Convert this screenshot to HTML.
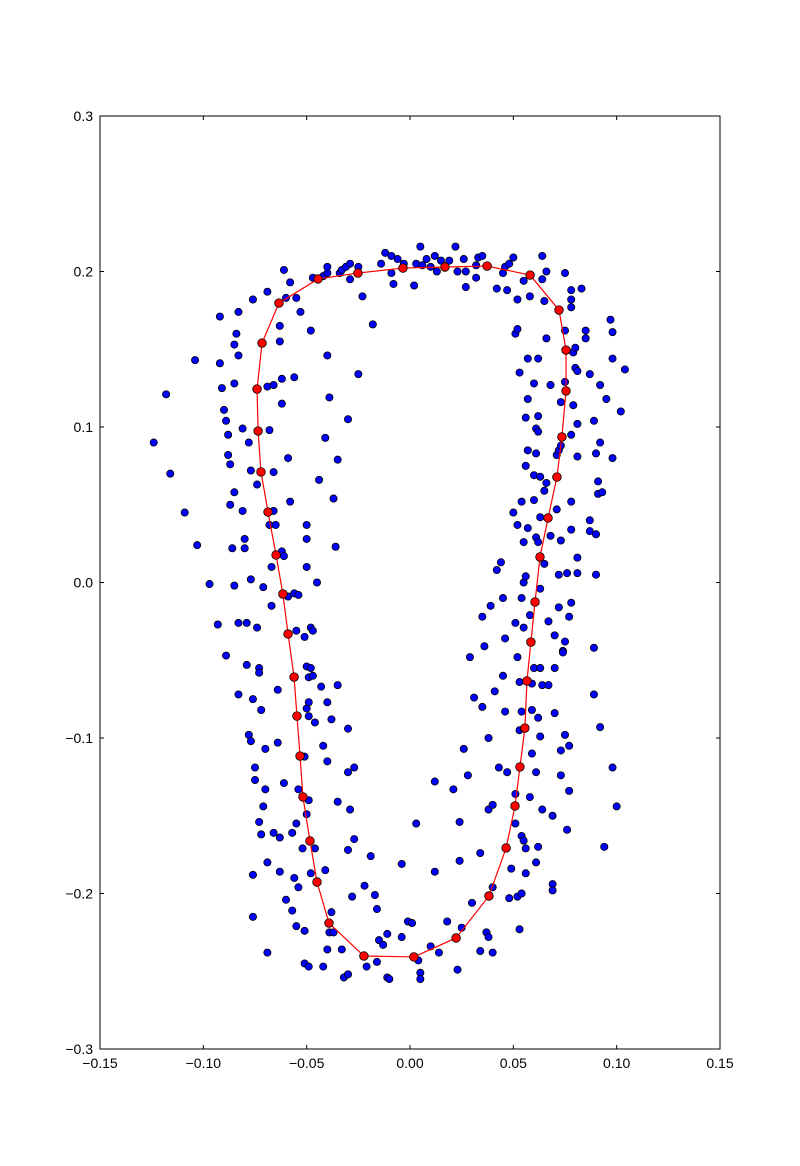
<!DOCTYPE html>
<html><head><meta charset="utf-8"><style>
body{margin:0;background:#fff;}
svg{display:block;font-family:"Liberation Sans",sans-serif;}
</style></head><body>
<svg id="chart" width="800" height="1166"></svg>
<script>
const xTicks=[-0.15,-0.10,-0.05,0.00,0.05,0.10,0.15];
const xTickLabels=["\u22120.15","\u22120.10","\u22120.05","0.00","0.05","0.10","0.15"];
const yTicks=[-0.3,-0.2,-0.1,0.0,0.1,0.2,0.3];
const yTickLabels=["\u22120.3","\u22120.2","\u22120.1","0.0","0.1","0.2","0.3"];
const curveX=[-0.0034,0.0169,0.0373,0.0581,0.0721,0.0755,0.0755,0.0735,0.0711,0.0668,0.0629,0.0605,0.0585,0.0566,0.0556,0.0532,0.0508,0.0465,0.0382,0.0223,0.0019,-0.0223,-0.0392,-0.0450,-0.0484,-0.0518,-0.0532,-0.0547,-0.0561,-0.0590,-0.0615,-0.0648,-0.0687,-0.0721,-0.0735,-0.0740,-0.0716,-0.0634,-0.0445,-0.0252];
const curveY=[0.2022,0.2029,0.2035,0.1977,0.1752,0.1495,0.1232,0.0936,0.0678,0.0415,0.0164,-0.0125,-0.0383,-0.0633,-0.0936,-0.1186,-0.1437,-0.1707,-0.2016,-0.2286,-0.2408,-0.2402,-0.2190,-0.1926,-0.1662,-0.1379,-0.1116,-0.0859,-0.0608,-0.0331,-0.0074,0.0177,0.0453,0.0711,0.0974,0.1244,0.1540,0.1797,0.1952,0.1990];
const pts=[[-0.124,0.090],[-0.118,0.121],[-0.116,0.070],[-0.109,0.045],[-0.103,0.024],[-0.104,0.143],[-0.097,-0.001],[-0.093,-0.027],[-0.092,0.171],[-0.092,0.141],[-0.091,0.125],[-0.090,0.111],[-0.089,0.104],[-0.088,0.082],[-0.088,0.095],[-0.087,0.076],[-0.087,0.050],[-0.086,0.022],[-0.085,0.058],[-0.085,0.128],[-0.085,0.153],[-0.084,0.160],[-0.083,0.146],[-0.083,0.174],[-0.089,-0.047],[-0.085,-0.002],[-0.083,-0.072],[-0.083,-0.026],[-0.081,0.099],[-0.081,0.046],[-0.080,0.028],[-0.080,0.022],[-0.079,-0.053],[-0.079,-0.026],[-0.078,0.090],[-0.078,-0.098],[-0.077,-0.102],[-0.077,0.002],[-0.077,0.072],[-0.076,0.182],[-0.076,-0.075],[-0.076,-0.188],[-0.076,-0.215],[-0.075,-0.119],[-0.075,-0.127],[-0.074,0.063],[-0.074,-0.029],[-0.073,-0.055],[-0.073,-0.058],[-0.073,-0.154],[-0.072,-0.082],[-0.072,-0.162],[-0.071,-0.003],[-0.071,-0.144],[-0.070,-0.133],[-0.070,-0.107],[-0.069,0.126],[-0.069,0.187],[-0.069,-0.180],[-0.069,-0.238],[-0.068,0.098],[-0.068,0.037],[-0.067,0.010],[-0.067,-0.015],[-0.066,-0.161],[-0.066,0.127],[-0.066,0.071],[-0.066,0.046],[-0.065,0.037],[-0.064,-0.103],[-0.064,-0.069],[-0.063,0.165],[-0.063,0.155],[-0.063,-0.186],[-0.063,-0.164],[-0.062,0.131],[-0.062,0.115],[-0.062,0.020],[-0.061,0.201],[-0.061,-0.129],[-0.061,0.017],[-0.060,0.183],[-0.060,-0.204],[-0.059,0.080],[-0.059,-0.009],[-0.058,0.193],[-0.058,0.052],[-0.057,-0.161],[-0.057,-0.211],[-0.056,-0.190],[-0.056,0.132],[-0.056,-0.007],[-0.055,0.183],[-0.055,-0.031],[-0.055,-0.155],[-0.055,-0.221],[-0.054,-0.133],[-0.054,-0.008],[-0.054,-0.196],[-0.053,0.174],[-0.052,-0.171],[-0.051,-0.245],[-0.051,-0.224],[-0.051,-0.112],[-0.051,-0.035],[-0.050,0.037],[-0.050,0.028],[-0.050,0.010],[-0.050,-0.054],[-0.050,-0.081],[-0.050,-0.149],[-0.049,-0.061],[-0.049,-0.247],[-0.049,-0.086],[-0.049,-0.140],[-0.049,-0.077],[-0.048,-0.029],[-0.048,-0.055],[-0.048,0.162],[-0.048,-0.187],[-0.047,0.196],[-0.047,-0.031],[-0.047,-0.060],[-0.046,-0.090],[-0.046,-0.171],[-0.045,0.000],[-0.044,0.066],[-0.043,-0.067],[-0.042,-0.105],[-0.042,0.197],[-0.042,-0.247],[-0.041,-0.185],[-0.041,0.093],[-0.040,0.199],[-0.040,0.203],[-0.040,-0.077],[-0.040,-0.236],[-0.040,-0.115],[-0.040,0.146],[-0.039,0.119],[-0.039,-0.225],[-0.038,-0.212],[-0.038,-0.088],[-0.037,-0.225],[-0.037,0.054],[-0.036,0.023],[-0.035,0.079],[-0.035,-0.141],[-0.035,-0.066],[-0.034,0.199],[-0.033,0.201],[-0.033,-0.236],[-0.032,-0.254],[-0.031,0.203],[-0.030,-0.094],[-0.030,-0.122],[-0.030,0.105],[-0.030,-0.172],[-0.030,-0.252],[-0.029,-0.146],[-0.029,0.205],[-0.029,0.195],[-0.028,-0.202],[-0.027,-0.119],[-0.027,-0.165],[-0.025,0.134],[-0.025,0.203],[-0.023,0.184],[-0.022,-0.195],[-0.021,-0.247],[-0.019,-0.176],[-0.018,0.166],[-0.017,-0.201],[-0.016,-0.210],[-0.016,-0.244],[-0.015,-0.230],[-0.014,0.205],[-0.013,-0.233],[-0.012,0.212],[-0.011,-0.226],[-0.011,-0.254],[-0.010,-0.255],[-0.009,0.199],[-0.009,0.210],[-0.008,0.192],[-0.006,0.208],[-0.004,-0.181],[-0.004,-0.228],[-0.003,0.205],[-0.001,-0.218],[0.001,-0.219],[0.002,0.191],[0.003,0.205],[0.003,-0.155],[0.004,-0.243],[0.005,-0.251],[0.005,-0.255],[0.005,0.216],[0.006,0.204],[0.008,0.208],[0.010,0.203],[0.010,-0.234],[0.012,0.210],[0.012,-0.128],[0.012,-0.186],[0.013,0.200],[0.014,-0.238],[0.015,0.207],[0.018,-0.218],[0.019,0.207],[0.021,-0.133],[0.022,0.216],[0.023,-0.249],[0.023,0.200],[0.024,-0.179],[0.024,-0.154],[0.025,-0.222],[0.026,-0.107],[0.026,0.208],[0.027,0.190],[0.027,0.200],[0.028,-0.124],[0.029,-0.048],[0.030,-0.206],[0.031,-0.074],[0.032,0.196],[0.032,0.204],[0.033,0.209],[0.034,-0.237],[0.034,-0.174],[0.035,-0.080],[0.035,0.210],[0.035,-0.022],[0.036,-0.041],[0.037,-0.225],[0.038,-0.228],[0.038,-0.146],[0.038,-0.100],[0.039,-0.015],[0.040,-0.238],[0.040,-0.196],[0.040,-0.143],[0.041,-0.070],[0.042,0.189],[0.042,0.008],[0.043,-0.119],[0.044,0.013],[0.045,0.199],[0.045,-0.060],[0.045,-0.010],[0.046,-0.083],[0.046,0.203],[0.046,-0.036],[0.047,-0.122],[0.047,0.188],[0.048,-0.203],[0.048,0.205],[0.049,-0.184],[0.050,0.045],[0.050,0.209],[0.051,0.160],[0.051,-0.026],[0.051,-0.136],[0.051,-0.155],[0.052,0.182],[0.052,0.163],[0.052,0.037],[0.052,-0.048],[0.052,-0.202],[0.053,-0.223],[0.053,-0.095],[0.053,-0.064],[0.053,0.135],[0.054,0.052],[0.054,-0.010],[0.054,-0.083],[0.054,-0.163],[0.054,-0.200],[0.055,-0.029],[0.055,-0.094],[0.055,0.000],[0.055,-0.166],[0.055,0.026],[0.055,0.194],[0.056,0.004],[0.056,-0.171],[0.056,-0.187],[0.056,0.075],[0.056,0.106],[0.057,0.085],[0.057,0.144],[0.057,0.118],[0.057,0.035],[0.058,0.184],[0.058,-0.021],[0.058,-0.138],[0.059,-0.065],[0.059,-0.110],[0.059,-0.082],[0.060,0.053],[0.060,-0.055],[0.060,0.128],[0.060,0.069],[0.061,0.099],[0.061,0.029],[0.061,0.083],[0.061,-0.122],[0.061,-0.180],[0.062,0.026],[0.062,-0.170],[0.062,0.097],[0.062,-0.087],[0.062,0.107],[0.062,0.144],[0.063,0.068],[0.063,0.042],[0.063,-0.004],[0.063,-0.055],[0.063,-0.099],[0.064,-0.066],[0.064,0.210],[0.064,-0.146],[0.064,0.195],[0.065,0.181],[0.065,0.012],[0.065,0.059],[0.066,0.064],[0.066,0.200],[0.066,0.157],[0.067,-0.066],[0.067,-0.025],[0.068,0.127],[0.068,0.030],[0.069,-0.150],[0.069,-0.194],[0.069,-0.198],[0.070,-0.055],[0.070,-0.084],[0.070,-0.034],[0.071,0.047],[0.071,0.082],[0.072,0.005],[0.072,0.085],[0.072,-0.016],[0.073,0.027],[0.073,0.088],[0.073,-0.108],[0.073,-0.124],[0.073,0.116],[0.074,-0.044],[0.074,-0.045],[0.075,-0.098],[0.075,0.129],[0.075,0.162],[0.075,-0.038],[0.075,0.199],[0.076,0.006],[0.076,-0.159],[0.077,-0.022],[0.077,-0.134],[0.077,-0.105],[0.078,0.182],[0.078,0.188],[0.078,0.177],[0.078,0.095],[0.078,0.052],[0.078,-0.013],[0.078,0.034],[0.079,0.148],[0.079,0.114],[0.080,0.138],[0.080,0.151],[0.081,0.006],[0.081,0.016],[0.081,0.136],[0.081,0.102],[0.081,0.081],[0.083,0.189],[0.085,0.157],[0.085,0.162],[0.087,0.134],[0.087,0.040],[0.087,0.033],[0.089,0.104],[0.089,-0.042],[0.089,-0.072],[0.090,0.005],[0.090,0.031],[0.090,0.083],[0.091,0.065],[0.092,0.127],[0.092,0.090],[0.091,0.057],[0.092,-0.093],[0.093,0.058],[0.094,-0.170],[0.095,0.118],[0.097,0.169],[0.098,0.161],[0.098,0.144],[0.098,-0.119],[0.098,0.080],[0.100,-0.144],[0.102,0.110],[0.104,0.137]];
const scatterX=pts.map(p=>p[0]);
const scatterY=pts.map(p=>p[1]);

const L=100,R=720,T=116,B=1049;
const xMin=-0.15,xMax=0.15,yMin=-0.3,yMax=0.3;
const sx=v=>L+(v-xMin)/(xMax-xMin)*(R-L);
const sy=v=>B-(v-yMin)/(yMax-yMin)*(B-T);
const NS="http://www.w3.org/2000/svg";
const svg=document.getElementById('chart');
function mk(tag,attrs,parent){const e=document.createElementNS(NS,tag);for(const k in attrs)e.setAttribute(k,attrs[k]);(parent||svg).appendChild(e);return e;}

const gS=mk('g',{});


for(let i=0;i<scatterX.length;i++){
  const c=mk('circle',{cx:sx(scatterX[i]),cy:sy(scatterY[i]),r:3.6,fill:'#0000ff',stroke:'#000','stroke-width':0.8},gS);
  
  
}
const gC=mk('g',{});


let d='';
for(let i=0;i<=curveX.length;i++){const j=i%curveX.length;d+=(i?'L':'M')+sx(curveX[j])+','+sy(curveY[j]);}
const line=mk('path',{d:d,fill:'none',stroke:'#ff0000','stroke-width':1.2},gC);


for(let i=0;i<curveX.length;i++){
  const c=mk('circle',{cx:sx(curveX[i]),cy:sy(curveY[i]),r:4.3,fill:'#ff0000',stroke:'#000','stroke-width':0.8},gC);
  
  
}
const frame=mk('rect',{x:L,y:T,width:R-L,height:B-T,fill:'none',stroke:'#000','stroke-width':1});


const gX=mk('g',{});


xTicks.forEach((v,i)=>{
  const x=sx(v);
  mk('line',{x1:x,x2:x,y1:B,y2:B-4,stroke:'#000'},gX);
  mk('line',{x1:x,x2:x,y1:T,y2:T+4,stroke:'#000'},gX);
  const t=mk('text',{x:x,y:B+19,'text-anchor':'middle','font-size':14},gX);
  t.textContent=xTickLabels[i];
  
  
});
const gY=mk('g',{});


yTicks.forEach((v,i)=>{
  const y=sy(v);
  mk('line',{x1:L,x2:L+4,y1:y,y2:y,stroke:'#000'},gY);
  mk('line',{x1:R,x2:R-4,y1:y,y2:y,stroke:'#000'},gY);
  const t=mk('text',{x:L-7,y:y+5,'text-anchor':'end','font-size':14},gY);
  t.textContent=yTickLabels[i];
  
  
});
</script>
</body></html>
